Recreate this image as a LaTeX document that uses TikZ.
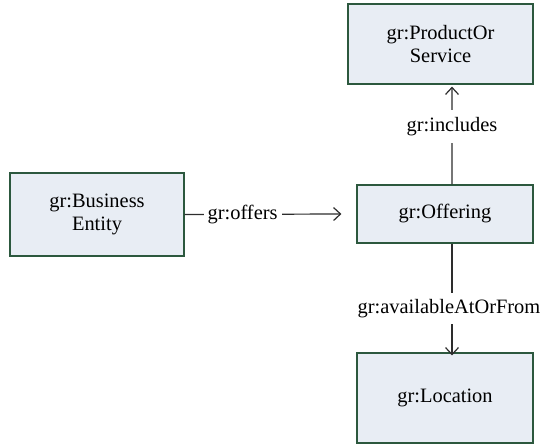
\documentclass[tikz,border=0pt]{standalone}
\usepackage{fontspec}
\setmainfont{Liberation Serif}
\usetikzlibrary{arrows.meta}
\definecolor{boxfill}{RGB}{232,237,244}
\definecolor{boxline}{RGB}{44,88,62}
\definecolor{linkcol}{RGB}{45,45,45}
\tikzset{
  classbox/.style={draw=boxline, fill=boxfill, line width=1.2bp,
    minimum width=#1, align=center, inner sep=0pt,
    font=\fontsize{20.5}{23.5}\selectfont},
  link/.style={draw=linkcol, line width=1.2bp,
    -{Straight Barb[length=7bp,width=13bp,line width=1.2bp]}},
  linklabel/.style={fill=white, inner sep=4bp, text=black,
    font=\fontsize{20.5}{23.5}\selectfont}
}
\begin{document}
\begin{tikzpicture}[x=1bp,y=-1bp]
  \useasboundingbox (0,0) rectangle (543,445);
  % classes
  \node[classbox=174bp, minimum height=83bp] (be)  at (97,214.5) {gr:Business\\Entity};
  \node[classbox=176bp, minimum height=58bp] (off) at (445,214)  {gr:Offering};
  \node[classbox=185bp, minimum height=80bp] (pos) at (440.5,44) {gr:ProductOr\\Service};
  \node[classbox=176bp, minimum height=90bp] (loc) at (445,398)  {gr:Location};
  % properties
  \draw[link] (be.east) -- ([xshift=-15bp]off.west)
    node[linklabel, pos=0.37] {gr:offers};
  \draw[link] ([xshift=7bp]off.north) -- ([xshift=11.5bp,yshift=-2bp]pos.south)
    node[linklabel, pos=0.59, inner ysep=7bp] {gr:includes};
  \draw[link] ([xshift=7bp]off.south) -- ([xshift=7bp,yshift=-3bp]loc.north)
    node[linklabel, pos=0.58, inner ysep=6bp, xshift=-3bp] {gr:availableAtOrFrom};
\end{tikzpicture}
\end{document}
